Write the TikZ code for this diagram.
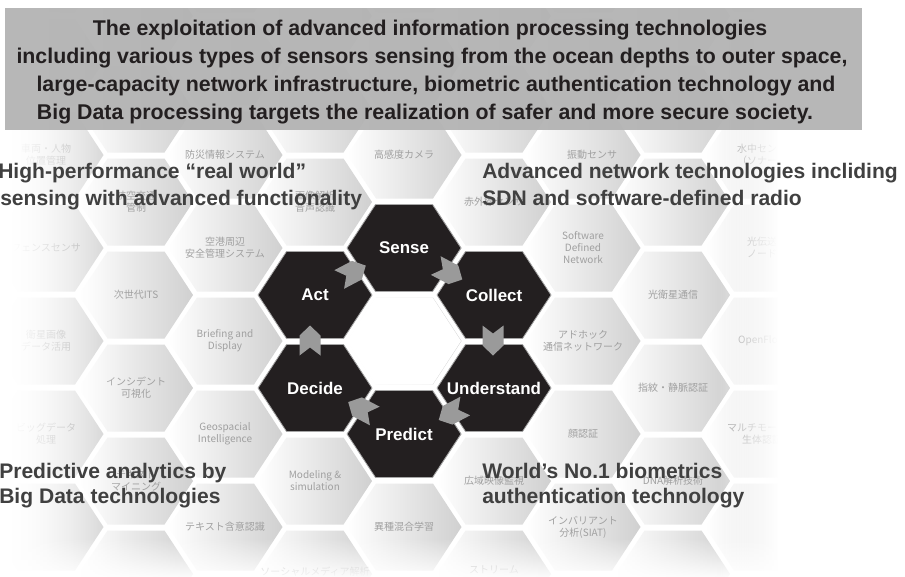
\documentclass[tikz,border=0pt]{standalone}
\usepackage{fontspec}
\setmainfont{Liberation Sans}
\newfontfamily\jpfont{Noto Sans CJK JP}
\usetikzlibrary{calc,fadings}
\definecolor{hexdark}{HTML}{231F20}
\definecolor{arrowgray}{HTML}{9A9A9A}
\definecolor{bannergray}{HTML}{B3B3B3}
\definecolor{headgray}{HTML}{404040}
\definecolor{bannertext}{HTML}{231F20}
\definecolor{bgtext}{HTML}{A0A0A0}
\definecolor{hexedge}{HTML}{D0D0D0}
\tikzfading[name=fadeleft, left color=transparent!0, right color=transparent!100]
\tikzfading[name=faderight, left color=transparent!100, right color=transparent!0]
\tikzfading[name=fadebottom, top color=transparent!100, bottom color=transparent!0]
\tikzset{
  hexagon/.pic={\path[pic actions] (-57,0) -- (-28.5,-43.5) -- (28.5,-43.5) -- (57,0) -- (28.5,43.5) -- (-28.5,43.5) -- cycle;},
  chevron/.pic={\path[pic actions] (-15,-10.5) -- (5,-10.5) -- (15,0) -- (5,10.5) -- (-15,10.5) -- (-7,0) -- cycle;},
  bghex/.style={left color=white, right color=hexedge, draw=none},
  bglabel/.style={font=\jpfont\fontsize{7.5}{9}\selectfont, text=bgtext, align=center, inner sep=0pt},
  corehex/.style={fill=hexdark, draw=black!35, line width=0.6pt},
  corelabel/.style={font=\bfseries\fontsize{12.7}{15}\selectfont, text=white, inner sep=0pt},
  flowarrow/.style={fill=arrowgray, draw=none},
  headline/.style={font=\bfseries\fontsize{15.8}{19}\selectfont, text=headgray, inner sep=0pt, anchor=base west},
  bannerline/.style={font=\bfseries\fontsize{16}{19}\selectfont, text=bannertext, inner sep=0pt, anchor=base},
  bannerbox/.style={fill=bannergray, fill opacity=0.94, draw=none},
}
\begin{document}
\begin{tikzpicture}[x=0.75pt, y=-0.75pt]
\useasboundingbox (0,0) rectangle (905,576);
\fill[white] (0,0) rectangle (905,576);
% background honeycomb
\begin{scope}
\clip (0,8) rectangle (905,576);
\foreach \k in {-3,...,6}{
  \pgfmathsetmacro{\cx}{315+89.5*\k}
  \pgfmathsetmacro{\yo}{isodd(\k) ? 248 : 295}
  \foreach \j in {-3,...,3}{
    \pgfmathsetmacro{\cy}{\yo+93*\j}
    \pic[bghex] at (\cx,\cy) {hexagon};
  }
}
\end{scope}
\pic[fill=white] at (404,341) {hexagon};
% background labels
\foreach \x/\y/\t in {
  46/155/{車両・人物\\位置管理},
  46/248/{フェンスセンサ},
  46/341/{衛星画像\\データ活用},
  46/434/{ビッグデータ\\処理},
  136/202/{航空交通\\管制},
  136/295/{次世代ITS},
  136/388/{インシデント\\可視化},
  136/481/{テキスト\\マイニング},
  225/155/{防災情報システム},
  225/248/{空港周辺\\安全管理システム},
  225/341/{Briefing and\\Display},
  225/434/{Geospacial\\Intelligence},
  225/527/{テキスト含意認識},
  315/202/{画像解析\\音声認識},
  315/481/{Modeling \&\\simulation},
  315/572/{ソーシャルメディア解析},
  404/155/{高感度カメラ},
  404/527/{異種混合学習},
  494/202/{赤外線センサ},
  494/481/{広域映像監視},
  494/570/{ストリーム},
  592/155/{振動センサ},
  583/248/{Software\\Defined\\Network},
  583/341/{アドホック\\通信ネットワーク},
  583/434/{顔認証},
  583/527/{インバリアント\\分析(SIAT)},
  673/295/{光衛星通信},
  673/388/{指紋・静脈認証},
  673/481/{DNA解析技術},
  762/155/{水中センサ\\（ソナー）},
  762/248/{光伝送\\ノード},
  762/341/{OpenFlow},
  762/434/{マルチモーダル\\生体認証}}{
  \node[bglabel] at (\x,\y) {\t};
}
% fades to white
\fill[white] (-2,0) rectangle (12,580);
\fill[white, path fading=fadeleft] (12,0) rectangle (125,580);
\fill[white, path fading=faderight] (718,0) rectangle (778,580);
\fill[white] (778,0) rectangle (910,580);
\fill[white, path fading=fadebottom] (-2,538) rectangle (910,580);
% banner
\fill[bannerbox] (5,8) rectangle (862,130);
\node[bannerline] (b1) at (430,35) {The exploitation of advanced information processing technologies};
\node[bannerline] (b2) at (432,63) {including various types of sensors sensing from the ocean depths to outer space,};
\node[bannerline] (b3) at (436,91) {large-capacity network infrastructure, biometric authentication technology and};
\node[bannerline] (b4) at (425,119) {Big Data processing targets the realization of safer and more secure society.};
% headings
\node[headline] (h1a) at (-2,178) {High-performance “real world”};
\node[headline] (h1b) at (0,205) {sensing with advanced functionality};
\node[headline] (h2a) at (482,178) {Advanced network technologies incliding};
\node[headline] (h2b) at (482,205) {SDN and software-defined radio};
\node[headline] (h3a) at (-1,478) {Predictive analytics by};
\node[headline] (h3b) at (-1,503) {Big Data technologies};
\node[headline] (h4a) at (482,478) {World’s No.1 biometrics};
\node[headline] (h4b) at (482,503) {authentication technology};
% core cycle
\foreach \x/\y/\n/\t in {404/248/sense/Sense, 494/295/collect/Collect, 494/388/understand/Understand, 404/434/predict/Predict, 315/388/decide/Decide, 315/295/act/Act}{
  \pic[corehex] at (\x,\y) {hexagon};
  \node[corelabel] (\n) at (\x,\y) {\t};
}
\foreach \a/\b/\ang/\dx/\dy in {act/sense/27.7/-7/1, sense/collect/-27.7/0/1, collect/understand/-90/-1/-1, understand/predict/-152.3/3/2, predict/decide/152.3/2/-2, decide/act/90/-5/-1}{
  \pic[flowarrow, rotate=\ang] at ($(\a)!0.5!(\b)+(\dx,\dy)$) {chevron};
}
\end{tikzpicture}
\end{document}
